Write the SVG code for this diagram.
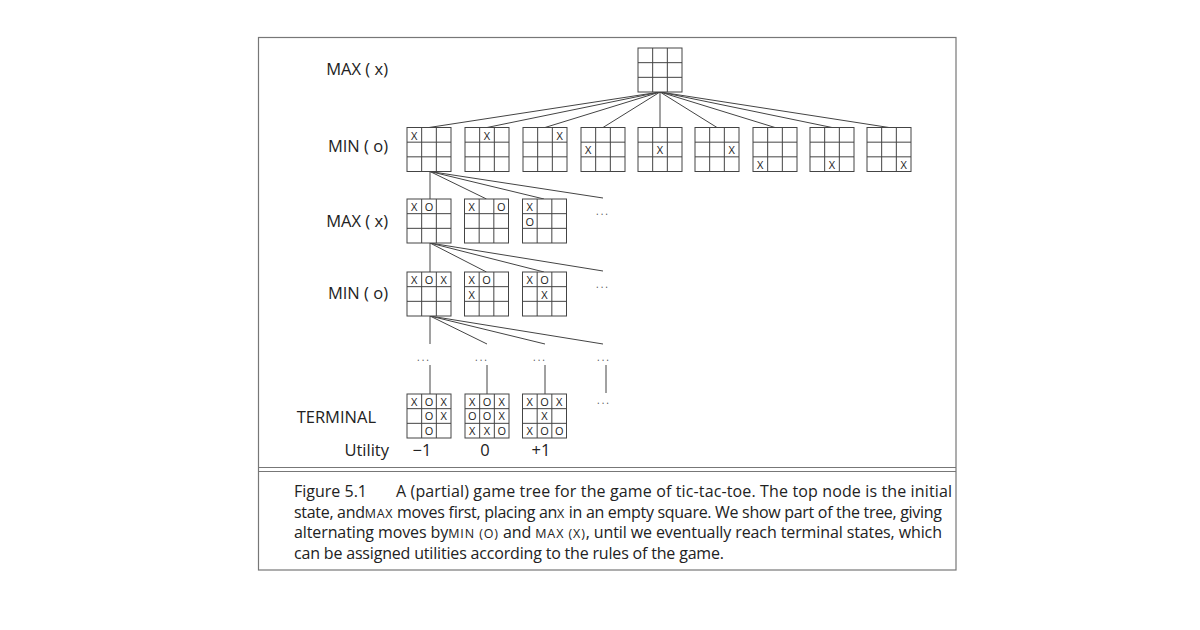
<svg xmlns="http://www.w3.org/2000/svg" width="1200" height="630" viewBox="0 0 1200 630">
<style>
  .lbl{font-family:"Open Sans","Noto Sans",sans-serif;font-size:16.5px;fill:#222}
  .m{font-family:"Open Sans","Noto Sans",sans-serif;font-size:11px;fill:#222;text-anchor:middle}
  .dots{font-family:"Open Sans","Noto Sans",sans-serif;font-size:10px;fill:#555;letter-spacing:2px}
  .cap{font-family:"Open Sans","Noto Sans",sans-serif;font-size:16px;fill:#222}
  .sc{font-size:12.5px;letter-spacing:1px}
  .conn line{stroke:#444;stroke-width:1}
  .frame{fill:none;stroke:#777;stroke-width:1.2}
</style>
<defs>
  <symbol id="board" overflow="visible">
    <rect x="0" y="0" width="44" height="44" fill="#fff" stroke="#444" stroke-width="1"/>
    <path d="M14.67 0V44M29.33 0V44M0 14.67H44M0 29.33H44" stroke="#444" stroke-width="1" fill="none"/>
  </symbol>
</defs>
<rect width="1200" height="630" fill="#fff"/>
<rect class="frame" x="258.5" y="37.5" width="697.5" height="532.5"/>
<line x1="258.5" y1="467.5" x2="956" y2="467.5" stroke="#777" stroke-width="1.2"/>
<line x1="258.5" y1="471.5" x2="956" y2="471.5" stroke="#777" stroke-width="1.2"/>

<g id="level-labels">
  <text class="lbl" x="388" y="75" text-anchor="end">MAX ( x)</text>
  <text class="lbl" x="388" y="152" text-anchor="end">MIN ( o)</text>
  <text class="lbl" x="388" y="226.5" text-anchor="end">MAX ( x)</text>
  <text class="lbl" x="388" y="299" text-anchor="end">MIN ( o)</text>
  <text class="lbl" x="376" y="422.5" text-anchor="end">TERMINAL</text>
  <text class="lbl" x="389" y="456" text-anchor="end">Utility</text>
  <text class="lbl" x="422" y="456" text-anchor="middle">−1</text>
  <text class="lbl" x="485" y="456" text-anchor="middle">0</text>
  <text class="lbl" x="541" y="456" text-anchor="middle">+1</text>
</g>

<g id="connectors" class="conn">
  <line x1="660" y1="92" x2="429" y2="127.5"/>
  <line x1="660" y1="92" x2="487" y2="127.5"/>
  <line x1="660" y1="92" x2="545" y2="127.5"/>
  <line x1="660" y1="92" x2="603" y2="127.5"/>
  <line x1="660" y1="92" x2="660" y2="127.5"/>
  <line x1="660" y1="92" x2="717" y2="127.5"/>
  <line x1="660" y1="92" x2="775" y2="127.5"/>
  <line x1="660" y1="92" x2="832" y2="127.5"/>
  <line x1="660" y1="92" x2="889" y2="127.5"/>
  <line x1="430" y1="171.5" x2="430" y2="199"/>
  <line x1="430" y1="171.5" x2="486.5" y2="199"/>
  <line x1="430" y1="171.5" x2="544" y2="199"/>
  <line x1="430" y1="171.5" x2="603" y2="198"/>
  <line x1="430" y1="243" x2="430" y2="272"/>
  <line x1="430" y1="243" x2="486.5" y2="272"/>
  <line x1="430" y1="243" x2="544" y2="272"/>
  <line x1="430" y1="243" x2="603" y2="271"/>
  <line x1="430" y1="316" x2="430" y2="344"/>
  <line x1="430" y1="316" x2="487" y2="344"/>
  <line x1="430" y1="316" x2="545" y2="344"/>
  <line x1="430" y1="316" x2="603" y2="344"/>
  <line x1="430" y1="365" x2="430" y2="394"/>
  <line x1="487" y1="365" x2="487" y2="394"/>
  <line x1="545" y1="365" x2="545" y2="394"/>
  <line x1="606" y1="365" x2="606" y2="393"/>
</g>

<g id="ellipses">
  <text class="dots" x="596" y="215">...</text>
  <text class="dots" x="596" y="288">...</text>
  <text class="dots" x="417" y="361">...</text>
  <text class="dots" x="475" y="361">...</text>
  <text class="dots" x="533" y="361">...</text>
  <text class="dots" x="597" y="361">...</text>
  <text class="dots" x="597" y="404">...</text>
</g>

<g id="root">
  <use href="#board" x="638" y="48"/>
</g>

<g id="min1-1"><use href="#board" x="407" y="127.5"/><text class="m" x="414.3" y="139.5">X</text></g>
<g id="min1-2"><use href="#board" x="465" y="127.5"/><text class="m" x="487" y="139.5">X</text></g>
<g id="min1-3"><use href="#board" x="523" y="127.5"/><text class="m" x="559.7" y="139.5">X</text></g>
<g id="min1-4"><use href="#board" x="581" y="127.5"/><text class="m" x="588.3" y="154.2">X</text></g>
<g id="min1-5"><use href="#board" x="638" y="127.5"/><text class="m" x="660" y="154.2">X</text></g>
<g id="min1-6"><use href="#board" x="695" y="127.5"/><text class="m" x="731.7" y="154.2">X</text></g>
<g id="min1-7"><use href="#board" x="753" y="127.5"/><text class="m" x="760.3" y="168.8">X</text></g>
<g id="min1-8"><use href="#board" x="810" y="127.5"/><text class="m" x="832" y="168.8">X</text></g>
<g id="min1-9"><use href="#board" x="867" y="127.5"/><text class="m" x="903.7" y="168.8">X</text></g>

<g id="max2-1"><use href="#board" x="407" y="199"/>
  <text class="m" x="414.3" y="211">X</text><text class="m" x="429" y="211">O</text></g>
<g id="max2-2"><use href="#board" x="464.5" y="199"/>
  <text class="m" x="471.8" y="211">X</text><text class="m" x="501.2" y="211">O</text></g>
<g id="max2-3"><use href="#board" x="522.5" y="199"/>
  <text class="m" x="529.8" y="211">X</text><text class="m" x="529.8" y="225.5">O</text></g>

<g id="min3-1"><use href="#board" x="407" y="272"/>
  <text class="m" x="414.3" y="284">X</text><text class="m" x="429" y="284">O</text><text class="m" x="443.7" y="284">X</text></g>
<g id="min3-2"><use href="#board" x="464.5" y="272"/>
  <text class="m" x="471.8" y="284">X</text><text class="m" x="486.5" y="284">O</text><text class="m" x="471.8" y="298.5">X</text></g>
<g id="min3-3"><use href="#board" x="522.5" y="272"/>
  <text class="m" x="529.8" y="284">X</text><text class="m" x="544.5" y="284">O</text><text class="m" x="544.5" y="298.5">X</text></g>

<g id="term-1"><use href="#board" x="407" y="394"/>
  <text class="m" x="414.3" y="405.5">X</text><text class="m" x="429" y="405.5">O</text><text class="m" x="443.7" y="405.5">X</text>
  <text class="m" x="429" y="420.2">O</text><text class="m" x="443.7" y="420.2">X</text>
  <text class="m" x="429" y="434.8">O</text></g>
<g id="term-2"><use href="#board" x="465" y="394"/>
  <text class="m" x="472.3" y="405.5">X</text><text class="m" x="487" y="405.5">O</text><text class="m" x="501.7" y="405.5">X</text>
  <text class="m" x="472.3" y="420.2">O</text><text class="m" x="487" y="420.2">O</text><text class="m" x="501.7" y="420.2">X</text>
  <text class="m" x="472.3" y="434.8">X</text><text class="m" x="487" y="434.8">X</text><text class="m" x="501.7" y="434.8">O</text></g>
<g id="term-3"><use href="#board" x="522.5" y="394"/>
  <text class="m" x="529.8" y="405.5">X</text><text class="m" x="544.5" y="405.5">O</text><text class="m" x="559.2" y="405.5">X</text>
  <text class="m" x="544.5" y="420.2">X</text>
  <text class="m" x="529.8" y="434.8">X</text><text class="m" x="544.5" y="434.8">O</text><text class="m" x="559.2" y="434.8">O</text></g>

<g id="caption">
  <text class="cap" x="294" y="497">Figure 5.1</text>
  <text class="cap" x="396" y="497" textLength="556" lengthAdjust="spacing">A (partial) game tree for the game of tic-tac-toe.  The top node is the initial</text>
  <text class="cap" x="294" y="517.7" textLength="648" lengthAdjust="spacing">state, and<tspan class="sc">MAX</tspan>  moves first, placing an<tspan class="sc">X</tspan>  in an empty square. We show part of the tree, giving</text>
  <text class="cap" x="294" y="538.4" textLength="648" lengthAdjust="spacing">alternating moves by<tspan class="sc">MIN  (O)</tspan> and <tspan class="sc">MAX  (X)</tspan>, until we eventually reach terminal states, which</text>
  <text class="cap" x="294" y="559" textLength="430" lengthAdjust="spacing">can be assigned utilities according to the rules of the game.</text>
</g>
</svg>
